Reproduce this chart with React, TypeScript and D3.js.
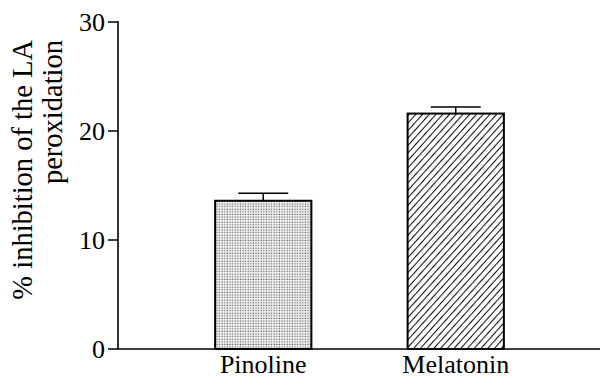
import React from "react";
import * as d3 from "d3";

const categories = ["Pinoline", "Melatonin"];
const values = [13.6, 21.6];
const errors = [0.7, 0.6];
const yTicks = [0, 10, 20, 30];
const yLabelLines = ["% inhibition of the LA", "peroxidation"];

const W = 600;
const H = 379;
const FONT = "'Liberation Serif', 'Times New Roman', serif";

export default function App() {
  const y = d3.scaleLinear().domain([0, 30]).range([349, 22]);
  const x = d3
    .scaleBand<string>()
    .domain(categories)
    .range([167, 552])
    .paddingInner(0.5)
    .paddingOuter(0.25);
  const axisX = 118;
  const fills = ["url(#dots)", "url(#hatch)"];

  return (
    <svg
      width={W}
      height={H}
      style={{ position: "absolute", left: 0, top: 0, background: "#fff" }}
      fontFamily={FONT}
    >
      <defs>
        <pattern id="dots" width={2.6} height={2.6} patternUnits="userSpaceOnUse">
          <rect width={2.6} height={2.6} fill="#f4f4f4" />
          <rect x={0.6} y={0.6} width={1.2} height={1.2} fill="#555" />
        </pattern>
        <pattern
          id="hatch"
          width={5}
          height={5}
          patternUnits="userSpaceOnUse"
          patternTransform="rotate(42)"
        >
          <rect width={5} height={5} fill="#fff" />
          <line x1={0} y1={0} x2={0} y2={5} stroke="#111" strokeWidth={2.1} />
        </pattern>
      </defs>

      {categories.map((c, i) => {
        const bx = x(c)!;
        const bw = x.bandwidth();
        const cx = bx + bw / 2;
        const top = y(values[i]);
        const errTop = y(values[i] + errors[i]);
        return (
          <g key={c}>
            <rect
              x={bx}
              y={top}
              width={bw}
              height={y(0) - top}
              fill={fills[i]}
              stroke="#000"
              strokeWidth={2}
            />
            <line x1={cx} x2={cx} y1={top} y2={errTop} stroke="#000" strokeWidth={1.5} />
            <line
              x1={cx - 25}
              x2={cx + 25}
              y1={errTop}
              y2={errTop}
              stroke="#000"
              strokeWidth={1.5}
            />
            <text x={cx} y={373} textAnchor="middle" fontSize={26} fill="#000">
              {c}
            </text>
          </g>
        );
      })}

      <line x1={axisX} x2={axisX} y1={y(30) - 1} y2={y(0)} stroke="#000" strokeWidth={1.6} />
      <line x1={axisX} x2={600} y1={y(0)} y2={y(0)} stroke="#000" strokeWidth={1.6} />
      {yTicks.map((t) => (
        <g key={t}>
          <line x1={axisX - 10} x2={axisX} y1={y(t)} y2={y(t)} stroke="#000" strokeWidth={1.5} />
          <text
            x={axisX - 13}
            y={y(t)}
            dy="0.35em"
            textAnchor="end"
            fontSize={26}
            fill="#000"
          >
            {t}
          </text>
        </g>
      ))}

      {yLabelLines.map((l, i) => (
        <text
          key={l}
          transform={`translate(${32 + i * 30},40) rotate(-90)`}
          textAnchor="end"
          fontSize={28.5}
          fill="#000"
        >
          {l}
        </text>
      ))}
    </svg>
  );
}
